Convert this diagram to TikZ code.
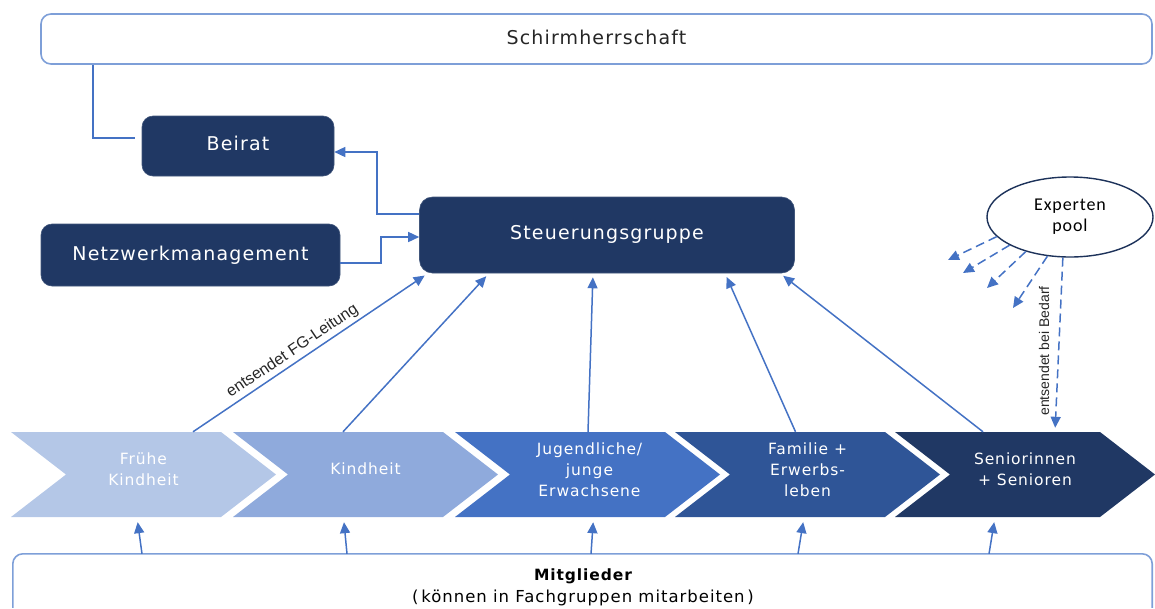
\documentclass[tikz,border=0pt]{standalone}
\usepackage{fontspec}
\setmainfont{DejaVu Sans}[LetterSpace=6]
\newfontfamily\labfont{Liberation Sans}
\newfontfamily\epfont{Carlito}[LetterSpace=5]
\usetikzlibrary{arrows.meta,shapes.geometric,shapes.symbols,calc}
\definecolor{navy}{HTML}{203864}
\definecolor{lblue}{HTML}{4472C4}
\definecolor{bline}{HTML}{7E9FD8}
\definecolor{chA}{HTML}{B4C7E7}
\definecolor{chB}{HTML}{8FAADC}
\definecolor{chC}{HTML}{4472C4}
\definecolor{chD}{HTML}{2F5597}
\definecolor{chE}{HTML}{203864}
\begin{document}
\begin{tikzpicture}[x=1pt,y=-1pt,
  darkbox/.style={draw=navy!85!white, line width=0.6pt, fill=navy, rounded corners=11pt,
    text=white, font=\fontsize{19}{23}\selectfont, inner sep=0pt},
  chev/.style={signal, signal from=west, signal to=east, signal pointer angle=75.4,
    minimum height=85pt, minimum width=265pt, inner sep=0pt},
  chevtext/.style={text=white, align=center, inner sep=0pt, font=\fontsize{15.5}{21}\selectfont},
  conn/.style={draw=lblue, line width=1.5pt, -{Triangle[length=11pt,width=10pt]}},
  dconn/.style={conn, dash pattern=on 9pt off 5pt},
  plain/.style={draw=lblue, line width=1.5pt},
  lab/.style={font=\labfont\fontsize{16}{18}\selectfont, text=black!85},
]
\useasboundingbox (0,0) rectangle (1155,608);

% top box
\node[draw=bline, line width=1.6pt, rounded corners=10pt, minimum width=1111pt,
  minimum height=50pt, inner sep=0pt, text=black!85, font=\fontsize{19}{23}\selectfont]
  (schirm) at (596.5,39) {\raisebox{3pt}{Schirmherrschaft}};

% dark boxes
\node[darkbox, minimum width=192pt, minimum height=60pt] (beirat) at (238,146) {\raisebox{5pt}{Beirat}};
\node[darkbox, minimum width=299pt, minimum height=62pt] (netz) at (190.5,255) {\raisebox{3pt}{Netzwerkmanagement}};
\node[darkbox, minimum width=375pt, minimum height=76pt, rounded corners=13pt] (sg) at (607,235) {\raisebox{6pt}{Steuerungsgruppe}};

% expert pool
\node[ellipse, draw=navy!90!black, line width=1.4pt, minimum width=166pt, minimum height=80pt,
  inner sep=0pt, align=center, font=\epfont\fontsize{18}{21}\selectfont, text=black]
  (ep) at (1070,217) {Experten\\pool};

% chevrons
\node[chev, fill=chA] (c1) at (143.5,474.5) {};
\node[chev, fill=chB] (c2) at (365.5,474.5) {};
\node[chev, fill=chC] (c3) at (587.5,474.5) {};
\node[chev, fill=chD] (c4) at (807.5,474.5) {};
\node[chev, fill=chE, minimum width=260pt] (c5) at (1025,474.5) {};
\node[chevtext] (t1) at (143.5,469) {Frühe\\Kindheit};
\node[chevtext] (t2) at (365.5,468.5) {Kindheit};
\node[chevtext] (t3) at (589.5,470) {Jugendliche/\\junge\\Erwachsene};
\node[chevtext] (t4) at (807.5,470) {Familie +\\Erwerbs-\\leben};
\node[chevtext] (t5) at (1025,469) {Seniorinnen\\+ Senioren};

% members box
\node[minimum width=1139pt, minimum height=62pt, inner sep=0pt] (mbox) at (582.5,585) {};
\draw[draw=bline, line width=1.6pt, rounded corners=10pt]
  ($(mbox.north west)+(0,54)$) -- (mbox.north west) -- (mbox.north east) -- ($(mbox.north east)+(0,54)$);
\node[align=center, inner sep=0pt, text=black, font=\fontsize{16.5}{22}\selectfont] (mit) at (583,587.5)
  {{\fontsize{15.5}{22}\selectfont\bfseries Mitglieder}\\
   (\,können in Fachgruppen mitarbeiten\,)};

% Schirmherrschaft -> Beirat
\draw[plain] ([xshift=-503.5pt]schirm.south) |- ([xshift=-7pt,yshift=8pt]beirat.west);

% Steuerungsgruppe -> Beirat
\draw[conn] ([yshift=21pt]sg.west) -| (377,152) -- ([yshift=-6pt]beirat.east);
% Netzwerk -> Steuerungsgruppe
\draw[conn] ([yshift=-8pt]netz.east) -| (381,237) -- ([yshift=-2pt]sg.west);

% chevrons -> Steuerungsgruppe
\draw[conn, shorten >=4pt] ([xshift=49.5pt]c1.north) -- node[lab, sloped, above, pos=0.45, inner sep=3pt] {entsendet FG-Leitung} ([xshift=-179pt]sg.south);
\draw[conn, shorten >=4pt] ([xshift=-22.5pt]c2.north) -- ([xshift=-118pt]sg.south);
\draw[conn, shorten >=4pt] ([xshift=0.5pt]c3.north) -- ([xshift=-14pt]sg.south);
\draw[conn, shorten >=4pt] ([xshift=-12pt]c4.north) -- ([xshift=118pt]sg.south);
\draw[conn, shorten >=4pt] ([xshift=-42pt]c5.north) -- ([xshift=173pt]sg.south);

% members -> chevrons
\draw[conn, shorten >=5pt] ([xshift=-440.5pt]mbox.north) -- ([xshift=-6.5pt]c1.south);
\draw[conn, shorten >=5pt] ([xshift=-235.5pt]mbox.north) -- ([xshift=-22pt]c2.south);
\draw[conn, shorten >=5pt] ([xshift=8.5pt]mbox.north) -- ([xshift=6pt]c3.south);
\draw[conn, shorten >=5pt] ([xshift=215.5pt]mbox.north) -- ([xshift=-3.5pt]c4.south);
\draw[conn, shorten >=5pt] ([xshift=406.5pt]mbox.north) -- ([xshift=-30pt]c5.south);

% expert pool dashed arrows
\coordinate (d1) at (948,260);
\coordinate (d2) at (963,273);
\coordinate (d3) at (987,288);
\coordinate (d4) at (1013,308);
\draw[dconn] (ep.195) -- (d1);
\draw[dconn] (ep.205) -- (d2);
\draw[dconn] (ep.218) -- (d3);
\draw[dconn] (ep.240) -- (d4);
\draw[dconn, shorten >=4pt] (ep.260.5) -- ([xshift=30pt]c5.north);
\node[lab, font=\labfont\fontsize{14}{16}\selectfont, rotate=90] (bed) at (1044,351) {entsendet bei Bedarf};
\end{tikzpicture}
\end{document}
